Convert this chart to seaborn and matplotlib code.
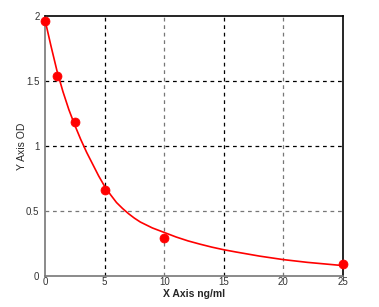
import matplotlib
matplotlib.use("Agg")
import matplotlib.pyplot as plt
import seaborn as sns
import pandas as pd

# Standard points
conc = [0, 1, 2.5, 5, 10, 25]
od = [1.965, 1.54, 1.187, 0.662, 0.295, 0.092]

# Fitted curve
curve_x = [0, 0.5, 1, 1.5, 2, 2.5, 3, 3.5, 4, 4.5, 5, 5.5, 6, 6.5, 7, 7.5, 8, 9, 10,
           11, 12, 13, 14, 15, 16, 18, 20, 22, 25]
curve_y = [1.97, 1.77, 1.58, 1.42, 1.28, 1.16, 1.05, 0.95, 0.86, 0.77, 0.69, 0.625,
           0.565, 0.52, 0.48, 0.445, 0.415, 0.37, 0.335, 0.30, 0.27, 0.245, 0.222,
           0.202, 0.185, 0.153, 0.126, 0.105, 0.08]

x_ticks = [0, 5, 10, 15, 20, 25]
y_ticks = [0, 0.5, 1, 1.5, 2]
x_tick_labels = ["0", "5", "10", "15", "20", "25"]
y_tick_labels = ["0", "0.5", "1", "1.5", "2"]

sns.set_style("white")
plt.rcParams['font.family'] = ['Liberation Sans', 'DejaVu Sans']

fig = plt.figure(figsize=(3.79, 3.07), dpi=100)
ax = fig.add_axes([45/379, 1-276/307, 298/379, 260/307])

pts = pd.DataFrame({"x": conc, "y": od})
crv = pd.DataFrame({"x": curve_x, "y": curve_y})

# grid lines
for xv in x_ticks[1:-1]:
    col = "black" if xv in (5, 15) else "#777777"
    ax.axvline(xv, color=col, ls=(0, (3, 3)), lw=0.9, zorder=1)
for yv in y_ticks[1:-1]:
    col = "black" if yv in (1, 1.5) else "#777777"
    ax.axhline(yv, color=col, ls=(0, (3, 3)), lw=0.9, zorder=1)

sns.lineplot(data=crv, x="x", y="y", ax=ax, color="red", lw=1.2, zorder=3)
sns.scatterplot(data=pts, x="x", y="y", ax=ax, color="red", s=42, edgecolor="red",
                zorder=4, clip_on=False)

ax.set_xlim(0, 25)
ax.set_ylim(0, 2)
ax.set_xticks(x_ticks)
ax.set_xticklabels(x_tick_labels)
ax.set_yticks(y_ticks)
ax.set_yticklabels(y_tick_labels)
ax.tick_params(axis="both", labelsize=7, length=3, width=0.8, colors="#555555",
               labelcolor="#333333", pad=1)
ax.tick_params(axis="x", direction="in")

for s in ("top", "right"):
    ax.spines[s].set_color("black")
    ax.spines[s].set_linewidth(1.2)
for s in ("left", "bottom"):
    ax.spines[s].set_color("#777777")
    ax.spines[s].set_linewidth(1.2)

ax.set_xlabel("X Axis ng/ml", fontsize=7.5, fontweight="bold", labelpad=1)
ax.set_ylabel("Y Axis OD", fontsize=7.5)
ax.yaxis.set_label_coords(-0.062, 0.5)

fig.savefig("out.png", dpi=100)
